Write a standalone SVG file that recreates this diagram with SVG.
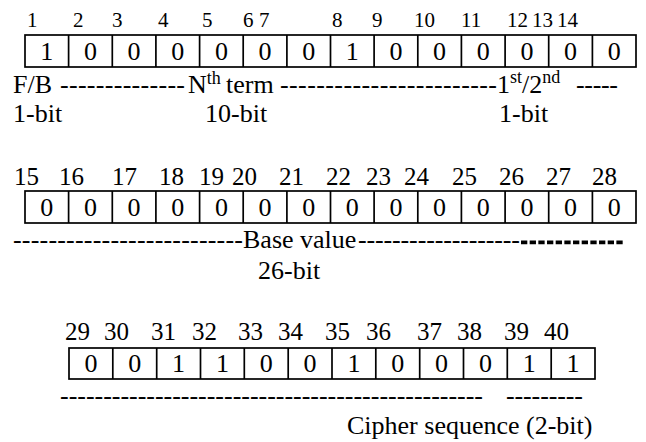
<svg xmlns="http://www.w3.org/2000/svg" width="646" height="442" viewBox="0 0 646 442">
<style>
text{font-family:"Liberation Serif","Times New Roman",serif;font-size:26px;fill:#000}
.n1{font-size:21px}
.n{font-size:25px}
.v{text-anchor:middle}
.sup{font-size:18px}
.cell{fill:#fff;stroke:#000;stroke-width:1.7}
.div{stroke:#000;stroke-width:1.7;fill:none}
.bdash{stroke:#000;stroke-width:3.8;stroke-dasharray:6.3 2.37;fill:none}
</style>
<rect width="646" height="442" fill="#fff"/>
<g id="row1">
<g id="row1-index">
<text class="n1" x="27" y="27">1</text><text class="n1" x="73" y="27">2</text><text class="n1" x="112" y="27">3</text><text class="n1" x="158" y="27">4</text><text class="n1" x="202" y="27">5</text><text class="n1" x="243" y="27">6</text><text class="n1" x="259" y="27">7</text><text class="n1" x="332" y="27">8</text><text class="n1" x="372" y="27">9</text><text class="n1" x="414" y="27">10</text><text class="n1" x="461" y="27">11</text><text class="n1" x="507" y="27">12</text><text class="n1" x="532" y="27">13</text><text class="n1" x="557" y="27">14</text>
</g>
<g id="row1-cells">
<rect class="cell" x="25" y="35" width="611" height="32"/>
<path class="div" d="M68.6 35V67M112.3 35V67M155.9 35V67M199.6 35V67M243.2 35V67M286.9 35V67M330.5 35V67M374.1 35V67M417.8 35V67M461.4 35V67M505.1 35V67M548.7 35V67M592.4 35V67"/>
<text class="v" x="46.8" y="60">1</text><text class="v" x="90.5" y="60">0</text><text class="v" x="134.1" y="60">0</text><text class="v" x="177.8" y="60">0</text><text class="v" x="221.4" y="60">0</text><text class="v" x="265" y="60">0</text><text class="v" x="308.7" y="60">0</text><text class="v" x="352.3" y="60">1</text><text class="v" x="396" y="60">0</text><text class="v" x="439.6" y="60">0</text><text class="v" x="483.3" y="60">0</text><text class="v" x="526.9" y="60">0</text><text class="v" x="570.5" y="60">0</text><text class="v" x="614.2" y="60">0</text>
</g>
<g id="row1-labels">
<text x="13" y="93">F/B</text>
<text x="60" y="93" textLength="125" lengthAdjust="spacing">--------------</text>
<text x="188" y="93">N<tspan class="sup" dy="-9">th</tspan><tspan x="226" dy="9">term</tspan></text>
<text x="280" y="93" textLength="217" lengthAdjust="spacing">------------------------</text>
<text x="497" y="93">1<tspan class="sup" dy="-10">st</tspan><tspan dy="10">/2</tspan><tspan class="sup" dy="-10">nd</tspan></text>
<text x="576" y="93" textLength="42" lengthAdjust="spacing">-----</text>
<text x="13" y="122">1-bit</text>
<text x="205" y="122">10-bit</text>
<text x="499" y="122">1-bit</text>
</g>
</g>
<g id="row2">
<g id="row2-index">
<text class="n" x="14" y="185">15</text><text class="n" x="59" y="185">16</text><text class="n" x="112" y="185">17</text><text class="n" x="159" y="185">18</text><text class="n" x="199" y="185">19</text><text class="n" x="232" y="185">20</text><text class="n" x="279" y="185">21</text><text class="n" x="326" y="185">22</text><text class="n" x="366" y="185">23</text><text class="n" x="404" y="185">24</text><text class="n" x="452" y="185">25</text><text class="n" x="499" y="185">26</text><text class="n" x="546" y="185">27</text><text class="n" x="592" y="185">28</text>
</g>
<g id="row2-cells">
<rect class="cell" x="25" y="191" width="611" height="32"/>
<path class="div" d="M68.6 191V223M112.3 191V223M155.9 191V223M199.6 191V223M243.2 191V223M286.9 191V223M330.5 191V223M374.1 191V223M417.8 191V223M461.4 191V223M505.1 191V223M548.7 191V223M592.4 191V223"/>
<text class="v" x="46.8" y="216">0</text><text class="v" x="90.5" y="216">0</text><text class="v" x="134.1" y="216">0</text><text class="v" x="177.8" y="216">0</text><text class="v" x="221.4" y="216">0</text><text class="v" x="265" y="216">0</text><text class="v" x="308.7" y="216">0</text><text class="v" x="352.3" y="216">0</text><text class="v" x="396" y="216">0</text><text class="v" x="439.6" y="216">0</text><text class="v" x="483.3" y="216">0</text><text class="v" x="526.9" y="216">0</text><text class="v" x="570.5" y="216">0</text><text class="v" x="614.2" y="216">0</text>
</g>
<g id="row2-labels">
<text x="13" y="248" textLength="230" lengthAdjust="spacing">--------------------------</text>
<text x="243" y="248">Base value</text>
<text x="358" y="248" textLength="162" lengthAdjust="spacing">-------------------</text>
<path class="bdash" d="M521 242.3H624"/>
<text x="258" y="279">26-bit</text>
</g>
</g>
<g id="row3">
<g id="row3-index">
<text class="n" x="65" y="340">29</text><text class="n" x="104" y="340">30</text><text class="n" x="151" y="340">31</text><text class="n" x="192" y="340">32</text><text class="n" x="238" y="340">33</text><text class="n" x="278" y="340">34</text><text class="n" x="325" y="340">35</text><text class="n" x="366" y="340">36</text><text class="n" x="417" y="340">37</text><text class="n" x="457" y="340">38</text><text class="n" x="504" y="340">39</text><text class="n" x="544" y="340">40</text>
</g>
<g id="row3-cells">
<rect class="cell" x="69" y="348" width="526" height="31"/>
<path class="div" d="M112.8 348V379M156.7 348V379M200.5 348V379M244.3 348V379M288.2 348V379M332 348V379M375.8 348V379M419.7 348V379M463.5 348V379M507.3 348V379M551.2 348V379"/>
<text class="v" x="90.9" y="372">0</text><text class="v" x="134.8" y="372">0</text><text class="v" x="178.6" y="372">1</text><text class="v" x="222.4" y="372">1</text><text class="v" x="266.3" y="372">0</text><text class="v" x="310.1" y="372">0</text><text class="v" x="353.9" y="372">1</text><text class="v" x="397.8" y="372">0</text><text class="v" x="441.6" y="372">0</text><text class="v" x="485.4" y="372">0</text><text class="v" x="529.3" y="372">1</text><text class="v" x="573.1" y="372">1</text>
</g>
<g id="row3-labels">
<text x="60" y="404" textLength="423" lengthAdjust="spacing">-------------------------------------------------</text>
<text x="506" y="404" textLength="77" lengthAdjust="spacing">---------</text>
<text x="347" y="434">Cipher sequence (2-bit)</text>
</g>
</g>
</svg>
